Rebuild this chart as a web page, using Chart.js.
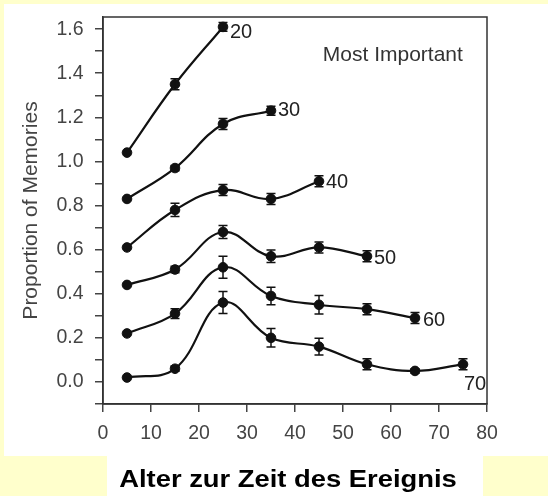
<!DOCTYPE html>
<html>
<head>
<meta charset="utf-8">
<script src="https://cdn.jsdelivr.net/npm/chart.js@4.4.0/dist/chart.umd.min.js"></script>
<style>
  html, body { margin: 0; padding: 0; background: #ffffcc; }
  canvas { display: block; }
</style>
</head>
<body>
<canvas id="chart" width="548" height="496"></canvas>
<script>
// age at the time of the event (decade midpoints)
var ages = [5, 15, 25, 35, 45, 55, 65, 75];
// age of the participants
var groups = ["20", "30", "40", "50", "60", "70"];

// proportion of memories per group
var mem20 = [1.04, 1.35, 1.61];
var mem30 = [0.83, 0.97, 1.17, 1.23];
var mem40 = [0.61, 0.78, 0.87, 0.83, 0.91];
var mem50 = [0.44, 0.51, 0.68, 0.57, 0.61, 0.57];
var mem60 = [0.22, 0.31, 0.52, 0.39, 0.35, 0.33, 0.29];
var mem70 = [0.02, 0.06, 0.36, 0.20, 0.16, 0.08, 0.05, 0.08];

// standard errors
var err20 = [0, 0.025, 0.02];
var err30 = [0, 0.012, 0.025, 0.02];
var err40 = [0, 0.03, 0.025, 0.025, 0.025];
var err50 = [0, 0.015, 0.03, 0.028, 0.025, 0.025];
var err60 = [0, 0.022, 0.05, 0.04, 0.042, 0.025, 0.025];
var err70 = [0, 0.012, 0.05, 0.042, 0.038, 0.025, 0.01, 0.025];

var xTicks = [0, 10, 20, 30, 40, 50, 60, 70, 80];

var allValues = [mem20, mem30, mem40, mem50, mem60, mem70];
var allErrors = [err20, err30, err40, err50, err60, err70];

var FONT = "'Liberation Sans', Arial, Helvetica, sans-serif";
var INK = "#111";
var X_TITLE = "Alter zur Zeit des Ereignis";

// where the group label sits next to the last point (pixels)
var labelOffsets = [[7, 6], [7, 0], [7, 1], [7, 2], [8, 2], [1, 20]];

var datasets = groups.map(function (g, i) {
  return {
    label: g,
    data: allValues[i].map(function (v, j) { return { x: ages[j], y: v }; }),
    borderColor: INK,
    borderWidth: 2.2,
    tension: 0.4,
    pointRadius: 4.8,
    pointBackgroundColor: INK,
    pointBorderColor: INK,
    pointBorderWidth: 1
  };
});

var background = {
  id: "background",
  beforeDraw: function (chart) {
    var ctx = chart.ctx;
    ctx.save();
    ctx.fillStyle = "#ffffcc";
    ctx.fillRect(0, 0, chart.width, chart.height);
    ctx.fillStyle = "#ffffff";
    ctx.fillRect(4, 4, chart.width - 4, 452);
    ctx.fillRect(107, 456, 376, chart.height - 456);
    ctx.restore();
  },
  beforeDatasetsDraw: function (chart) {
    var a = chart.chartArea, ctx = chart.ctx;
    ctx.save();
    ctx.strokeStyle = "#333";
    ctx.lineWidth = 1.5;
    ctx.strokeRect(a.left, a.top, a.right - a.left, a.bottom - a.top);
    ctx.restore();
  }
};

var errorBars = {
  id: "errorBars",
  afterDatasetsDraw: function (chart) {
    var ctx = chart.ctx, xs = chart.scales.x, ys = chart.scales.y;
    ctx.save();
    ctx.strokeStyle = INK;
    ctx.lineWidth = 1.5;
    allValues.forEach(function (vals, i) {
      vals.forEach(function (v, j) {
        var e = allErrors[i][j];
        if (!e) return;
        var px = xs.getPixelForValue(ages[j]);
        var top = ys.getPixelForValue(v + e);
        var bot = ys.getPixelForValue(v - e);
        ctx.beginPath();
        ctx.moveTo(px, top); ctx.lineTo(px, bot);
        ctx.moveTo(px - 4.5, top); ctx.lineTo(px + 4.5, top);
        ctx.moveTo(px - 4.5, bot); ctx.lineTo(px + 4.5, bot);
        ctx.stroke();
      });
    });
    ctx.restore();
  }
};

var labels = {
  id: "labels",
  afterDraw: function (chart) {
    var ctx = chart.ctx, xs = chart.scales.x, ys = chart.scales.y;
    ctx.save();
    ctx.fillStyle = "#222";
    ctx.font = "20px " + FONT;
    ctx.textAlign = "left";
    ctx.textBaseline = "middle";
    groups.forEach(function (g, i) {
      var vals = allValues[i];
      var last = vals.length - 1;
      var px = xs.getPixelForValue(ages[last]);
      var py = ys.getPixelForValue(vals[last]);
      ctx.fillText(g, px + labelOffsets[i][0], py + labelOffsets[i][1]);
    });
    ctx.fillStyle = "#333";
    ctx.font = "21px " + FONT;
    ctx.fillText("Most Important", xs.getPixelForValue(45.8), ys.getPixelForValue(1.48));

    // x axis title, in its own box below the plot, a bit wider than the font
    ctx.fillStyle = "#000";
    ctx.font = "bold 23px " + FONT;
    ctx.textAlign = "center";
    ctx.translate(288, 481);
    ctx.scale(1.19, 1);
    ctx.fillText(X_TITLE, 0, 0);
    ctx.restore();
  }
};

new Chart(document.getElementById("chart"), {
  type: "line",
  data: { datasets: datasets },
  plugins: [background, errorBars, labels],
  options: {
    responsive: false,
    animation: false,
    layout: { padding: { left: 0, top: 17, right: 61, bottom: 0 } },
    plugins: { legend: { display: false }, tooltip: { enabled: false } },
    scales: {
      x: {
        type: "linear",
        position: "bottom",
        min: 0,
        max: 80,
        bounds: "data",
        afterFit: function (scale) { scale.height = 92; },
        afterBuildTicks: function (scale) {
          scale.ticks = xTicks.map(function (v) { return { value: v }; });
        },
        ticks: { autoSkip: false, maxRotation: 0, color: "#444", padding: 10, font: { size: 19.5, family: FONT } },
        grid: { drawOnChartArea: false, drawTicks: true, tickLength: 8, color: "#444", lineWidth: 1.5 },
        border: { display: true, color: "#333", width: 1.5 },
        title: { display: false, text: X_TITLE }
      },
      y: {
        type: "linear",
        min: -0.1,
        max: 1.655,
        bounds: "data",
        afterFit: function (scale) {
          scale.width = 103;
          scale.paddingTop = 0;
          scale.paddingBottom = 0;
        },
        ticks: {
          stepSize: 0.1,
          includeBounds: false,
          autoSkip: false,
          color: "#444",
          padding: 11.5,
          font: { size: 19.5, family: FONT },
          callback: function (v) {
            var r = Math.round(v * 10);
            if (Math.abs(v * 10 - r) > 1e-6 || r > 16) return null;
            return r % 2 === 0 ? (r / 10).toFixed(1) : "";
          }
        },
        grid: { drawOnChartArea: false, drawTicks: true, tickLength: 8, color: "#444", lineWidth: 1.5 },
        border: { display: true, color: "#333", width: 1.5 },
        title: {
          display: true,
          text: "Proportion of Memories",
          color: "#444",
          padding: { top: 19, bottom: 0 },
          font: { size: 21, family: FONT }
        }
      }
    }
  }
});
</script>
</body>
</html>
